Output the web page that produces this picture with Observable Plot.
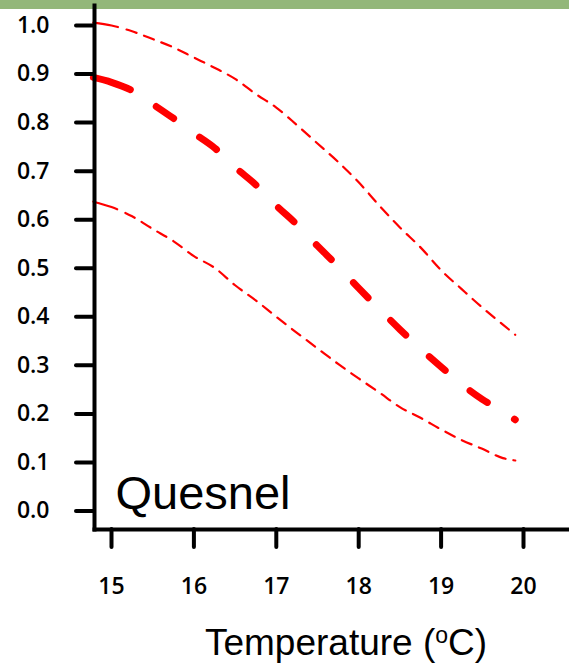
<!DOCTYPE html>
<html>
<head>
<meta charset="utf-8">
<script src="https://cdn.jsdelivr.net/npm/d3@7"></script>
<script src="https://cdn.jsdelivr.net/npm/@observablehq/plot@0.6"></script>
<style>
  html, body { margin: 0; padding: 0; background: #fff; }
  #wrap { position: relative; width: 569px; height: 664px; overflow: hidden; }
  #band { position: absolute; left: 0; top: 0; width: 569px; height: 9px; background: #93b77a; }
  #chart { position: absolute; left: 0; top: 0; }
  #chart g[aria-label*="tick"] path, #chart g[aria-label*="tick"] line { stroke-width: 4px; stroke-linecap: round; }
</style>
</head>
<body>
<div id="wrap"><div id="band"></div><div id="chart"></div></div>
<script>
// Temperature (°C)
const temps = [14.78, 15, 15.25, 15.5, 15.75, 16, 16.25, 16.5, 16.75, 17, 17.25, 17.5, 17.75, 18, 18.25, 18.5, 18.75, 19, 19.25, 19.5, 19.75, 19.9];
// Fitted probability (thick dashed)
const meanVals = [0.893, 0.883, 0.866, 0.838, 0.809, 0.778, 0.748, 0.708, 0.672, 0.629, 0.590, 0.546, 0.504, 0.459, 0.416, 0.374, 0.334, 0.297, 0.261, 0.230, 0.205, 0.188];
// Upper confidence bound
const upperVals = [1.006, 1.000, 0.988, 0.972, 0.955, 0.934, 0.913, 0.890, 0.859, 0.831, 0.795, 0.757, 0.719, 0.677, 0.629, 0.584, 0.543, 0.496, 0.457, 0.419, 0.384, 0.363];
// Lower confidence bound
const lowerVals = [0.637, 0.626, 0.607, 0.581, 0.556, 0.525, 0.501, 0.465, 0.434, 0.400, 0.367, 0.335, 0.303, 0.273, 0.244, 0.214, 0.192, 0.168, 0.146, 0.128, 0.109, 0.104];
const xTicks = [15, 16, 17, 18, 19, 20];
const yTicks = [0, 0.1, 0.2, 0.3, 0.4, 0.5, 0.6, 0.7, 0.8, 0.9, 1.0];
const panelLabel = "Quesnel";
const xLabelMain = "Temperature (";
const xLabelSup = "o";
const xLabelEnd = "C)";

const mk = (vals) => temps.map((t, i) => ({t, v: vals[i]}));

function dashes(first, gapFirst, dash, gap, n) {
  const a = [first, gapFirst];
  for (let i = 0; i < n; i++) a.push(dash, gap);
  return a.join(",");
}

const plot = Plot.plot({
  width: 569,
  height: 664,
  marginLeft: 94,
  marginRight: 0,
  marginTop: 5,
  marginBottom: 135,
  style: {background: "transparent", color: "black"},
  x: {domain: [15, 20], range: [111, 523]},
  y: {domain: [0, 1], range: [510.5, 25]},
  marks: [
    Plot.line(mk(upperVals), {x: "t", y: "v", stroke: "#ff0000", strokeWidth: 2.2, curve: "monotone-x",
      strokeDasharray: dashes(25, 9, 10.5, 8, 40)}),
    Plot.line(mk(lowerVals), {x: "t", y: "v", stroke: "#ff0000", strokeWidth: 2.2, curve: "monotone-x",
      strokeDasharray: dashes(25, 9, 10.5, 8, 40)}),
    Plot.line(mk(meanVals), {x: "t", y: "v", stroke: "#ff0000", strokeWidth: 7, curve: "monotone-x",
      strokeLinecap: "round", strokeDasharray: dashes(39, 31, 21, 32, 14)}),
    Plot.frame({anchor: "left", strokeWidth: 4, stroke: "black", strokeLinecap: "square"}),
    Plot.frame({anchor: "bottom", strokeWidth: 4, stroke: "black", strokeLinecap: "square"}),
    Plot.axisY({ticks: yTicks, tickFormat: d3.format(".1f"), tickSize: 18, tickPadding: 27, strokeWidth: 4,
      fontSize: 23, fontWeight: 600, fontFamily: "Open Sans", label: null}),
    Plot.axisX({ticks: xTicks, tickFormat: d => String(d), tickSize: 18, tickPadding: 30, strokeWidth: 4,
      fontSize: 23, fontWeight: 600, fontFamily: "Open Sans", label: null}),
    Plot.text([panelLabel], {frameAnchor: "bottom-left", dx: 21, dy: -21, lineAnchor: "bottom", textAnchor: "start",
      fontSize: 47, fontFamily: "Liberation Sans", fill: "black"})
  ]
});

const svg = d3.select(plot);
const lab = svg.append("text")
  .attr("x", 346).attr("y", 655)
  .attr("text-anchor", "middle")
  .attr("font-family", "Liberation Sans")
  .attr("font-size", 37)
  .attr("fill", "black");
lab.append("tspan").text(xLabelMain);
lab.append("tspan").attr("font-size", 23).attr("dy", -12).text(xLabelSup);
lab.append("tspan").attr("dy", 12).text(xLabelEnd);

document.getElementById("chart").appendChild(plot);
</script>
</body>
</html>
